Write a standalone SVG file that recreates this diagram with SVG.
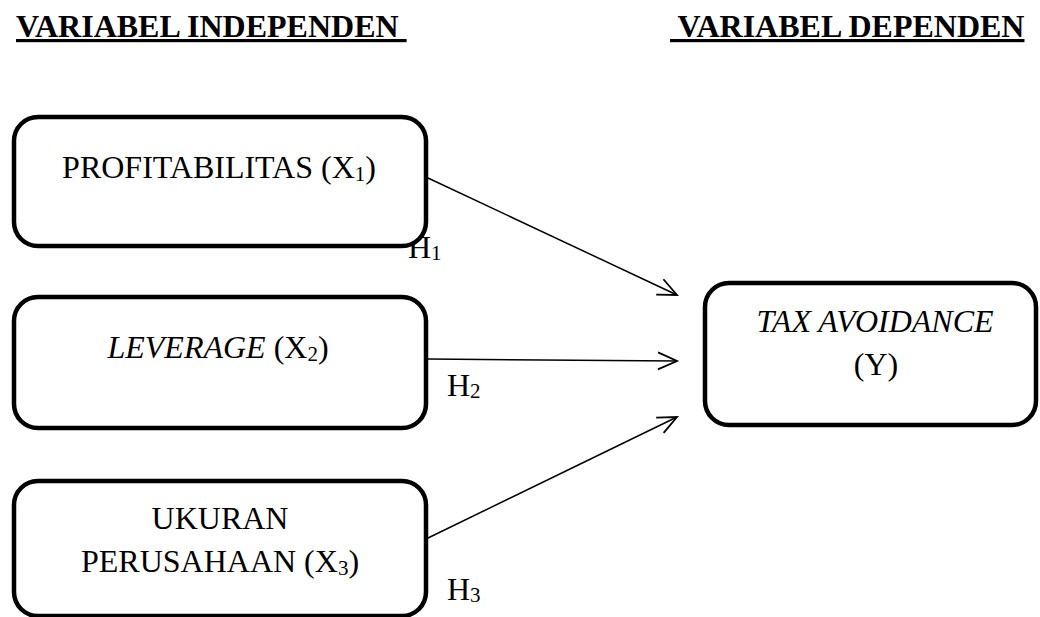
<svg xmlns="http://www.w3.org/2000/svg" width="1040" height="617" viewBox="0 0 1040 617">
<style>
text{font-family:"Liberation Serif","Times New Roman",serif;fill:#000}
.title{font-size:32px;font-weight:bold;text-decoration:underline}
.lbl{font-size:32px}
.box{fill:#fff;stroke:#000;stroke-width:4.5}
.con{stroke:#000;stroke-width:1.5;fill:none}
.sub{font-size:21px}
</style>
<defs>
<marker id="arr" markerUnits="userSpaceOnUse" markerWidth="24" markerHeight="22" refX="20" refY="10" orient="auto" overflow="visible">
<path d="M1,1.5 L20,10 L1,18.5" fill="none" stroke="#000" stroke-width="1.8"/>
</marker>
</defs>
<g id="titles">
<text class="title" x="16" y="37" xml:space="preserve">VARIABEL INDEPENDEN </text>
<text class="title" x="670" y="37" xml:space="preserve"> VARIABEL DEPENDEN</text>
</g>
<g id="connectors">
<line class="con" x1="428" y1="178" x2="677" y2="295" marker-end="url(#arr)"/>
<line class="con" x1="428" y1="359" x2="677" y2="361" marker-end="url(#arr)"/>
<line class="con" x1="428" y1="538" x2="677" y2="417" marker-end="url(#arr)"/>
<text class="lbl" x="408" y="258">H<tspan class="sub" dy="2">1</tspan></text>
<text class="lbl" x="447" y="396">H<tspan class="sub" dy="2">2</tspan></text>
<text class="lbl" x="447" y="600">H<tspan class="sub" dy="2">3</tspan></text>
</g>
<g id="node-x1">
<rect class="box" x="14" y="117" width="412" height="129" rx="24"/>
<text class="lbl" x="219" y="178" text-anchor="middle">PROFITABILITAS (X<tspan class="sub" dy="3">1</tspan><tspan dy="-3">)</tspan></text>
</g>
<g id="node-x2">
<rect class="box" x="14" y="297" width="412" height="131" rx="24"/>
<text class="lbl" x="218" y="358" text-anchor="middle"><tspan font-style="italic">LEVERAGE</tspan> (X<tspan class="sub" dy="3">2</tspan><tspan dy="-3">)</tspan></text>
</g>
<g id="node-x3">
<rect class="box" x="14" y="481" width="412" height="135" rx="24"/>
<text class="lbl" x="220" y="529" text-anchor="middle">UKURAN</text>
<text class="lbl" x="220" y="572" text-anchor="middle">PERUSAHAAN (X<tspan class="sub" dy="3">3</tspan><tspan dy="-3">)</tspan></text>
</g>
<g id="node-y">
<rect class="box" x="705" y="283" width="331" height="142" rx="24"/>
<text class="lbl" x="875" y="332" text-anchor="middle" font-style="italic">TAX AVOIDANCE</text>
<text class="lbl" x="876" y="375" text-anchor="middle">(Y)</text>
</g>
</svg>
